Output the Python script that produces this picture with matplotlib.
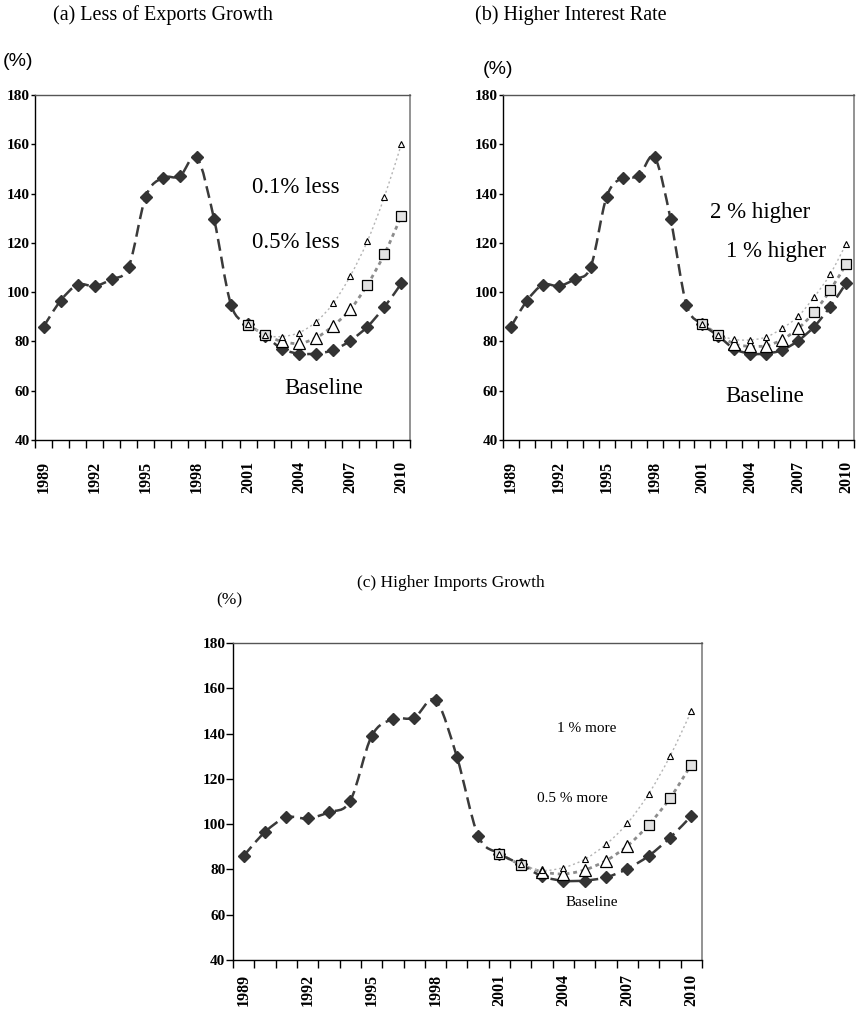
import matplotlib
matplotlib.use('Agg')
import matplotlib.pyplot as plt
from matplotlib.path import Path
from matplotlib.patches import PathPatch

# ---- data ----
years = [1989, 1990, 1991, 1992, 1993, 1994, 1995, 1996, 1997, 1998, 1999,
         2000, 2001, 2002, 2003, 2004, 2005, 2006, 2007, 2008, 2009, 2010]
label_years = [1989, 1992, 1995, 1998, 2001, 2004, 2007, 2010]

baseline = [86.0, 96.5, 103.0, 102.5, 105.3, 110.3, 138.8, 146.4, 147.0, 154.7, 129.8,
            94.9, 87.0, 82.2, 77.0, 75.0, 75.1, 76.5, 80.3, 86.0, 94.0, 103.6]

scen_years = [2001, 2002, 2003, 2004, 2005, 2006, 2007, 2008, 2009, 2010]

exports_top = [87.2, 82.6, 82.0, 83.6, 88.0, 95.5, 106.6, 120.7, 138.7, 160.2]
exports_mid = [86.8, 82.6, 80.0, 79.2, 81.5, 86.4, 93.0, 103.0, 115.5, 131.0]

interest_top = [87.2, 82.8, 80.8, 80.6, 81.8, 85.3, 90.2, 98.0, 107.2, 119.5]
interest_mid = [87.0, 82.8, 79.0, 78.0, 78.3, 80.7, 85.3, 91.8, 100.7, 111.3]

imports_top = [87.0, 82.2, 79.6, 80.8, 84.5, 91.1, 100.4, 113.4, 130.0, 149.9]
imports_mid = [86.9, 82.1, 79.0, 78.0, 79.8, 83.9, 90.4, 99.7, 111.5, 126.3]

SERIF = 'Liberation Serif'
SANS = 'Liberation Sans'
W, H = 862, 1009

# marker shape used for each point of the middle scenario
mid_marker = ['s', 's', '^', '^', '^', '^', '^', 's', 's', 's']


def smooth_path(xs, ys):
    # excel-like smoothed line (catmull-rom as bezier segments)
    pts = list(zip(xs, ys))
    verts = [pts[0]]
    codes = [Path.MOVETO]
    n = len(pts)
    for i in range(n - 1):
        p0 = pts[i - 1] if i > 0 else pts[i]
        p1 = pts[i]
        p2 = pts[i + 1]
        p3 = pts[i + 2] if i + 2 < n else pts[i + 1]
        c1 = (p1[0] + (p2[0] - p0[0]) / 6.0, p1[1] + (p2[1] - p0[1]) / 6.0)
        c2 = (p2[0] - (p3[0] - p1[0]) / 6.0, p2[1] - (p3[1] - p1[1]) / 6.0)
        verts += [c1, c2, p2]
        codes += [Path.CURVE4] * 3
    return Path(verts, codes)


def draw_panel(ax, top, mid, notes, note_size, label_pad, ytick_len):
    x_all = [years.index(y) for y in years]
    x_sc = [years.index(y) for y in scen_years]

    ax.add_patch(PathPatch(smooth_path(x_sc, mid), fill=False, edgecolor='#8c8c8c',
                           lw=2.0, linestyle=(0, (1.4, 1.4)), capstyle='butt', zorder=2))
    ax.add_patch(PathPatch(smooth_path(x_sc, top), fill=False, edgecolor='#b4b4b4',
                           lw=1.0, linestyle=(0, (1.5, 2.0)), zorder=2))
    ax.add_patch(PathPatch(smooth_path(x_all, baseline), fill=False, edgecolor='#3a3a3a',
                           lw=1.8, linestyle=(0, (4.8, 2.4)), capstyle='butt', zorder=3))

    ax.plot(x_all, baseline, linestyle='none', marker='D', ms=6, color='#333333', zorder=4)
    for xi, yi, mk in zip(x_sc, mid, mid_marker):
        if mk == 's':
            ax.plot(xi, yi, linestyle='none', marker='s', ms=6.5, mfc='#e2e2e2',
                    mec='black', mew=0.9, zorder=5)
        else:
            ax.plot(xi, yi, linestyle='none', marker='^', ms=8, mfc='white',
                    mec='black', mew=0.9, zorder=5)
    ax.plot(x_sc, top, linestyle='none', marker='^', ms=3.8, mfc='white',
            mec='black', mew=0.8, zorder=6)

    for txt, xp, yp in notes:
        ax.text(xp, yp, txt, fontsize=note_size, family=SERIF, ha='center', va='center')

    ax.set_xlim(-0.5, len(years) - 0.5)
    ax.set_ylim(40, 180)
    ax.set_yticks(range(40, 181, 20))

    ax.set_xticks([years.index(y) for y in label_years])
    ax.set_xticklabels([str(y) for y in label_years], rotation=90, family=SERIF,
                       fontweight='bold', fontsize=11.5)
    ax.set_xticks([i - 0.5 for i in range(len(years) + 1)], minor=True)
    ax.tick_params(axis='x', which='major', length=0, pad=label_pad)
    ax.tick_params(axis='x', which='minor', length=6, width=1, direction='out')
    ax.tick_params(axis='y', length=ytick_len, width=1, direction='out', pad=0.5)
    for lab in ax.get_yticklabels():
        lab.set_family(SERIF)
        lab.set_fontweight('bold')
        lab.set_fontsize(11)

    for side in ['left', 'bottom', 'top']:
        ax.spines[side].set_color('black')
        ax.spines[side].set_linewidth(1)
    ax.spines['top'].set_color('#555555')
    ax.spines['right'].set_color('#8a8a8a')
    ax.spines['right'].set_linewidth(1.3)


def px_axes(fig, left, top, right, bottom):
    return fig.add_axes([left / W, 1 - bottom / H, (right - left) / W, (bottom - top) / H])


fig = plt.figure(figsize=(W / 100, H / 100), dpi=100)

ax_a = px_axes(fig, 35, 95, 410, 440)
draw_panel(ax_a, exports_top, exports_mid,
           [('0.1% less', 14.8, 142.3), ('0.5% less', 14.8, 120.0), ('Baseline', 16.45, 61.1)],
           16.5, 15, 3)

ax_b = px_axes(fig, 503, 95, 854, 440)
draw_panel(ax_b, interest_top, interest_mid,
           [('2 % higher', 15.6, 132.5), ('1 % higher', 16.6, 116.3), ('Baseline', 15.9, 57.8)],
           16.5, 15, 3)

ax_c = px_axes(fig, 233, 643, 702, 960)
draw_panel(ax_c, imports_top, imports_mid,
           [('1 % more', 16.07, 142.4), ('0.5 % more', 15.4, 111.5), ('Baseline', 16.35, 65.2)],
           11, 10, 5)

fig.text(163 / W, 1 - 15 / H, '(a) Less of Exports Growth', family=SERIF, fontsize=14.5,
         ha='center', va='center')
fig.text(571 / W, 1 - 15 / H, '(b) Higher Interest Rate', family=SERIF, fontsize=14.5,
         ha='center', va='center')
fig.text(3 / W, 1 - 62 / H, '(%)', family=SANS, fontsize=14, ha='left', va='center')
fig.text(483 / W, 1 - 70 / H, '(%)', family=SANS, fontsize=14, ha='left', va='center')
fig.text(451 / W, 1 - 583 / H, '(c) Higher Imports Growth', family=SERIF, fontsize=12.5,
         ha='center', va='center')
fig.text(229 / W, 1 - 600 / H, '(%)', family=SERIF, fontsize=12.5, ha='center', va='center')

fig.savefig('out.png', dpi=100)
plt.close(fig)
